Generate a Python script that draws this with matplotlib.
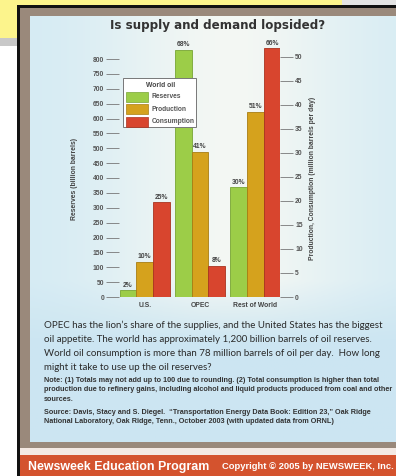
import numpy as np
import matplotlib
matplotlib.use("Agg")
import matplotlib.pyplot as plt
from matplotlib.patches import Rectangle

regions = ["U.S.", "OPEC", "Rest of World"]
reserves = [22, 830, 369]          # billion barrels (left axis)
production = [7.3, 30.2, 38.5]     # million barrels per day (right axis)
consumption = [19.7, 6.5, 51.7]    # million barrels per day (right axis)
reserves_pct = ["2%", "68%", "30%"]
production_pct = ["10%", "41%", "51%"]
consumption_pct = ["25%", "8%", "66%"]
left_ticks = list(range(0, 801, 50))
right_ticks = list(range(0, 51, 5))
series_names = ["Reserves", "Production", "Consumption"]
series_colors = ["#9ccd48", "#d5a21d", "#d8452e"]
edge_colors = ["#78a533", "#a87d12", "#a9331f"]

W, H = 396, 476
SANS = ["Liberation Sans", "DejaVu Sans"]
PLAIN = ["Lato", "DejaVu Sans"]


def fx(x):
    return x / W


def fy(y):
    return 1 - y / H


fig = plt.figure(figsize=(W / 100, H / 100), dpi=100)
fig.patch.set_facecolor("white")
renderer = fig.canvas.get_renderer()


def fit(t, width, vertical=False):
    # scale a text's font size so it spans `width` pixels
    bb = t.get_window_extent(renderer)
    cur = bb.height if vertical else bb.width
    t.set_fontsize(t.get_fontsize() * width / cur)
    return t.get_fontsize()


# background / frame, in pixel coords
bg = fig.add_axes([0, 0, 1, 1], zorder=-10)
bg.set_xlim(0, W)
bg.set_ylim(H, 0)
bg.axis("off")

# yellow note behind the photo + its shadow
bg.add_patch(Rectangle((0, 0), 342, 38, color="#fcf48c", lw=0))
bg.add_patch(Rectangle((0, 38), 17, 8, color="#c8c8c8", lw=0))
bg.add_patch(Rectangle((342, 0), 54, 5, color="#e4e4e4", lw=0))

# photo outline and brown frame
bg.add_patch(Rectangle((17, 5), W - 17, 450, color="#111111", lw=0))
bg.add_patch(Rectangle((19.5, 7.5), W - 19.5, 441, color="#9a897b", lw=0))

# light blue poster panel with a soft gradient
px0, py0, px1, py1 = 30, 16, W, 442
gx = np.linspace(0, 1, 200)
gy = np.linspace(0, 1, 200)
GX, GY = np.meshgrid(gx, gy)
left_c = np.array([0.83, 0.92, 0.955])
white_c = np.array([0.955, 0.97, 0.955])
blue_c = np.array([0.80, 0.90, 0.95])
w = np.exp(-((GX - 0.55) / 0.35) ** 2)[..., None]
img = left_c * (1 - w) + white_c * w
v = np.clip((GY - 0.62) / 0.15, 0, 1)[..., None]
img = img * (1 - v) + blue_c * v
bg.imshow(img, extent=(px0, px1, py1, py0), aspect="auto", zorder=1)

# footer
bg.add_patch(Rectangle((17, 448), W - 17, 8, color="#f4e9e3", lw=0, zorder=2))
bg.add_patch(Rectangle((17, 455), W - 17, 21, color="#d4532e", lw=0, zorder=2))
bg.add_patch(Rectangle((17, 5), 2.5, 471, color="#111111", lw=0, zorder=3))

# chart axes
ax = fig.add_axes([fx(119.5), fy(297), (280.5 - 119.5) / W, (297 - 40) / H])
ax.patch.set_alpha(0)
ax2 = ax.twinx()
ax2.patch.set_alpha(0)
ax.set_ylim(0, 257 / 0.2975)
ax2.set_ylim(0, 257 / 4.81)

gap = 3.28
x = np.arange(len(regions)) * gap
ax.set_xlim(-1.5, x[-1] + 1.5)

ax.bar(x - 1, reserves, width=1, color=series_colors[0],
       edgecolor=edge_colors[0], lw=0.6)
ax2.bar(x, production, width=1, color=series_colors[1],
        edgecolor=edge_colors[1], lw=0.6)
ax2.bar(x + 1, consumption, width=1, color=series_colors[2],
        edgecolor=edge_colors[2], lw=0.6)

lab_kw = dict(textcoords="offset points", xytext=(0, 1.2), ha="center",
              va="bottom", fontsize=4.9, fontweight="bold", color="#444444",
              family=SANS, annotation_clip=False)
for xi, val, p in zip(x - 1, reserves, reserves_pct):
    ax.annotate(p, (xi, val), **lab_kw)
for xi, val, p in zip(x, production, production_pct):
    ax2.annotate(p, (xi, val), **lab_kw)
for xi, val, p in zip(x + 1, consumption, consumption_pct):
    ax2.annotate(p, (xi, val), **lab_kw)

for a in (ax, ax2):
    for s in a.spines.values():
        s.set_visible(False)

ax.set_yticks(left_ticks)
ax2.set_yticks(right_ticks)
ax.tick_params(axis="y", length=9.5, width=0.6, color="#777777", pad=1.5,
               labelsize=4.9, labelcolor="#555555")
ax2.tick_params(axis="y", length=9, width=0.6, color="#777777", pad=1.5,
                labelsize=4.9, labelcolor="#555555")
for t in ax.get_yticklabels() + ax2.get_yticklabels():
    t.set_family(SANS)
    t.set_fontweight("bold")

ax.set_xticks(x)
ax.set_xticklabels(regions, family=SANS, fontweight="bold", fontsize=4.9,
                   color="#444444")
ax.tick_params(axis="x", length=0, pad=3.5)

t = fig.text(fx(74), fy(179), "Reserves (billion barrels)", rotation=90,
             ha="center", va="center", fontsize=5, fontweight="bold",
             color="#444444", family=SANS)
fit(t, 82, vertical=True)
t = fig.text(fx(313), fy(178.5), "Production, Consumption (million barrels per day)",
             rotation=90, ha="center", va="center", fontsize=5,
             fontweight="bold", color="#444444", family=SANS)
fit(t, 163, vertical=True)

# legend box, drawn over the OPEC reserves bar
fig.patches.append(Rectangle((fx(122.5), fy(127.5)), (196 - 122.5) / W,
                             (127.5 - 78.5) / H, transform=fig.transFigure,
                             facecolor="white", edgecolor="#777777", lw=0.7,
                             zorder=20))
fig.text(fx(161), fy(85.5), "World oil", ha="center", va="center",
         fontsize=4.9, fontweight="bold", color="#444444", family=SANS,
         zorder=21)
for i, (name, c, ec) in enumerate(zip(series_names, series_colors, edge_colors)):
    yc = 97 + i * 12.3
    fig.patches.append(Rectangle((fx(126), fy(yc + 5)), 21.5 / W, 10 / H,
                                 transform=fig.transFigure, facecolor=c,
                                 edgecolor=ec, lw=0.5, zorder=21))
    fig.text(fx(151.5), fy(yc), name, ha="left", va="center", fontsize=4.8,
             fontweight="bold", color="#555555", family=SANS, zorder=21)

# title
t = fig.text(fx(217.5), fy(25.5), "Is supply and demand lopsided?", ha="center",
             va="center", fontsize=9, fontweight="bold", color="#333333",
             family=["DejaVu Sans"])
fit(t, 215)

# body copy
body = [
    "OPEC has the lion\u2019s share of the supplies, and the United States has the biggest",
    "oil appetite. The world has approximately 1,200 billion barrels of oil reserves.",
    "World oil consumption is more than 78 million barrels of oil per day.  How long",
    "might it take to use up the oil reserves?",
]
size = None
for i, line in enumerate(body):
    t = fig.text(fx(43.5), fy(325 + i * 14.2), line, ha="left", va="center",
                 fontsize=size or 7.3, color="#2a2a2a", family=PLAIN)
    if size is None:
        size = fit(t, 340)

notes = [
    "Note: (1) Totals may not add up to 100 due to rounding. (2) Total consumption is higher than total",
    "production due to refinery gains, including alcohol and liquid products produced from coal and other",
    "sources.",
]
size = None
for i, line in enumerate(notes):
    t = fig.text(fx(43.5), fy(380 + i * 9.8), line, ha="left", va="center",
                 fontsize=size or 5, fontweight="bold", color="#333333",
                 family=SANS)
    if size is None:
        size = fit(t, 341)

source = [
    "Source: Davis, Stacy and S. Diegel.  \u201cTransportation Energy Data Book: Edition 23,\u201d Oak Ridge",
    "National Laboratory, Oak Ridge, Tenn., October 2003 (with updated data from ORNL)",
]
for i, line in enumerate(source):
    t = fig.text(fx(43.5), fy(412 + i * 9.6), line, ha="left", va="center",
                 fontsize=size, fontweight="bold", color="#333333",
                 family=SANS)

# footer text
t = fig.text(fx(28), fy(467), "Newsweek Education Program", ha="left",
             va="center", fontsize=8.6, fontweight="bold", color="white",
             family=SANS)
fit(t, 180)
t = fig.text(fx(394), fy(466.5), "Copyright \u00a9 2005 by NEWSWEEK, Inc.",
             ha="right", va="center", fontsize=6.6, fontweight="bold",
             color="white", family=SANS)
fit(t, 172)

fig.savefig("out.png", dpi=100)
